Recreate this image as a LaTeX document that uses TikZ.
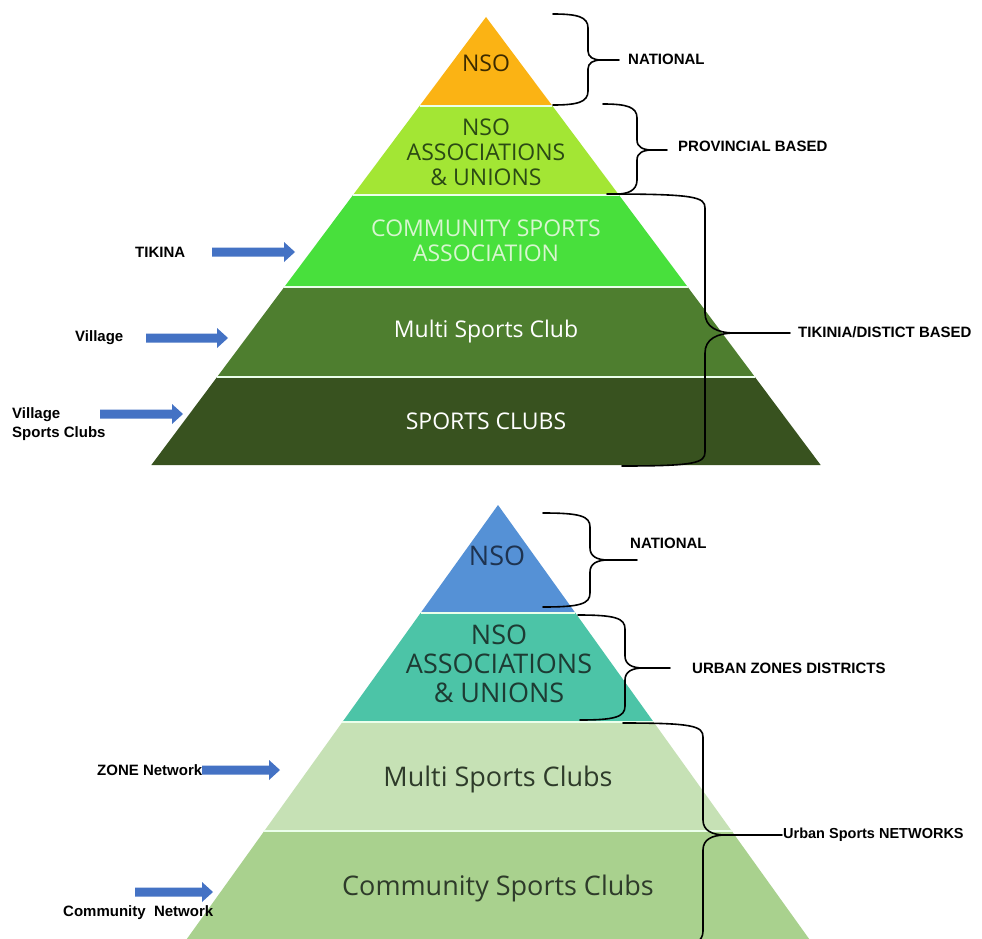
\documentclass[tikz,border=0pt]{standalone}
\usepackage{fontspec}
\setmainfont{Liberation Sans}
\newfontfamily\pyrfont{Open Sans}
\newfontfamily\labfont{Liberation Sans}
\usetikzlibrary{calc}
\definecolor{tNso}{HTML}{FBB314}
\definecolor{tAssoc}{HTML}{A3E634}
\definecolor{tComm}{HTML}{48E03C}
\definecolor{tMulti}{HTML}{4E7E2F}
\definecolor{tClubs}{HTML}{38521F}
\definecolor{bNso}{HTML}{5591D6}
\definecolor{bAssoc}{HTML}{4CC4A7}
\definecolor{bMulti}{HTML}{C6E1B5}
\definecolor{bComm}{HTML}{A9D18E}
\definecolor{arrowblue}{HTML}{4472C4}
\definecolor{txtBrown}{HTML}{3B2A00}
\definecolor{txtDkGreen}{HTML}{2B4A14}
\definecolor{txtPale}{HTML}{D8F6D0}
\definecolor{txtNavy}{HTML}{1E3350}
\definecolor{txtTeal}{HTML}{1D3B33}
\definecolor{txtGrey}{HTML}{2E3B2A}
\tikzset{
  bracestyle/.style={draw=black, line width=1.6pt, line cap=round, line join=round},
  sepline/.style={draw=white!92!green, line width=1.4pt},
  toptext/.style={font=\pyrfont\fontsize{23}{25}\selectfont, align=center, inner sep=0pt},
  bottext/.style={font=\pyrfont\fontsize{27}{29}\selectfont, align=center, inner sep=0pt},
  labtext/.style={font=\labfont\bfseries\fontsize{15}{19}\selectfont, inner sep=0pt, text=black, align=left},
}
% band: apex x, apex y, slope, y1, y2, colour
\newcommand\pyrband[6]{%
  \fill[#6] ({#1-#3*(#4-#2)},#4) -- ({#1+#3*(#4-#2)},#4) -- ({#1+#3*(#5-#2)},#5) -- ({#1-#3*(#5-#2)},#5) -- cycle;}
% separator line at y
\newcommand\pyrsep[4]{%
  \draw[sepline] ({#1-#3*(#4-#2)},#4) -- ({#1+#3*(#4-#2)},#4);}
% block arrow: x1, x2, y
\newcommand\blockarrow[3]{%
  \fill[arrowblue] (#1,{#3-4.5}) -- ({#2-11},{#3-4.5}) -- ({#2-11},{#3-10}) -- (#2,#3) -- ({#2-11},{#3+10}) -- ({#2-11},{#3+4.5}) -- (#1,{#3+4.5}) -- cycle;}
% brace: xtop, ytop, xbot, ybot, xv, ymid, curl, xline
\newcommand\mybrace[8]{%
  \draw[bracestyle] (#1,#2) .. controls ({#5-10},#2) and (#5,{#2+3}) .. (#5,{#2+14})
    -- (#5,{#6-#7}) .. controls (#5,{#6-0.3*#7}) and ({#5+0.6*#7},#6) .. ({#5+1.5*#7},#6) -- (#8,#6);
  \draw[bracestyle] ({#5+1.5*#7},#6) .. controls ({#5+0.6*#7},#6) and (#5,{#6+0.3*#7}) .. (#5,{#6+#7})
    -- (#5,{#4-14}) .. controls (#5,{#4-3}) and ({#5-10},#4) .. (#3,#4);}
\begin{document}
\begin{tikzpicture}[x=1pt,y=-1pt]
\useasboundingbox (0,0) rectangle (982,939);
\clip (0,0) rectangle (982,939);
\fill[white] (0,0) rectangle (982,939);

% ---------- top pyramid ----------
\pyrband{486}{17}{0.747}{17}{106}{tNso}
\pyrband{486}{17}{0.747}{106}{195}{tAssoc}
\pyrband{486}{17}{0.747}{195}{287}{tComm}
\pyrband{486}{17}{0.747}{287}{377}{tMulti}
\pyrband{486}{17}{0.747}{377}{465}{tClubs}
\pyrsep{486}{17}{0.747}{106}
\pyrsep{486}{17}{0.747}{195}
\pyrsep{486}{17}{0.747}{287}
\pyrsep{486}{17}{0.747}{377}

\node[toptext, text=txtBrown] (tnso) at (486,63) {NSO};
\node[toptext, text=txtDkGreen] (tassoc) at (486,152) {NSO\\ASSOCIATIONS\\\&~UNIONS};
\node[toptext, text=txtPale] (tcomm) at (486,241) {COMMUNITY SPORTS\\ASSOCIATION};
\node[toptext, text=white] (tmulti) at (486,332) {Multi Sports Club};
\node[toptext, text=white] (tclubs) at (486,421) {SPORTS CLUBS};

% braces top
\mybrace{553}{14}{553}{105}{588}{60}{9}{619}
\mybrace{603}{104}{617}{194}{637}{150}{10}{667}
\mybrace{607}{194}{622}{466}{705}{333}{20}{790}
\node[labtext, anchor=west] (lnat1) at (628,59) {NATIONAL};
\node[labtext, anchor=west] (lprov) at (678,146) {PROVINCIAL BASED};
\node[labtext, anchor=west] (ltik) at (798,332) {TIKINIA/DISTICT BASED};

% left arrows top
\node[labtext, anchor=west] (ltikina) at (135,252) {TIKINA};
\blockarrow{212}{295}{252}
\node[labtext, anchor=west] (lvillage) at (75,338) {Village};
\blockarrow{146}{228}{338}
\node[labtext, anchor=west] (lvsc) at (12,424) {Village\\Sports Clubs};
\blockarrow{100}{183}{414}

% ---------- bottom pyramid ----------
\pyrband{498}{505}{0.717}{505}{613}{bNso}
\pyrband{498}{505}{0.717}{613}{722}{bAssoc}
\pyrband{498}{505}{0.717}{722}{831}{bMulti}
\pyrband{498}{505}{0.717}{831}{945}{bComm}
\pyrsep{498}{505}{0.717}{613}
\pyrsep{498}{505}{0.717}{722}
\pyrsep{498}{505}{0.717}{831}

\node[bottext, text=txtNavy] (bnso) at (497,556) {NSO};
\node[bottext, text=txtTeal] (bassoc) at (499,664) {NSO\\ASSOCIATIONS\\\&~UNIONS};
\node[bottext, text=txtGrey] (bmulti) at (498,779) {Multi Sports Clubs};
\node[bottext, text=txtGrey] (bcomm) at (498,888) {Community Sports Clubs};

% braces bottom
\mybrace{543}{513}{543}{607}{590}{560}{12}{637}
\mybrace{578}{615}{580}{720}{625}{668}{12}{670}
\mybrace{623}{723}{687}{945}{703}{835}{15}{782}
\node[labtext, anchor=west] (lnat2) at (630,543) {NATIONAL};
\node[labtext, anchor=west] (lurban) at (692,668) {URBAN ZONES DISTRICTS};
\node[labtext, anchor=west, font=\labfont\bfseries\fontsize{14.5}{17}\selectfont] (lusn) at (783,835) {Urban Sports NETWORKS};

% left arrows bottom
\node[labtext, anchor=west] (lzone) at (97,770) {ZONE Network};
\blockarrow{202}{280}{770}
\blockarrow{135}{213}{892}
\node[labtext, anchor=west] (lcomm) at (63,913) {Community\ \ Network};
\end{tikzpicture}
\end{document}
